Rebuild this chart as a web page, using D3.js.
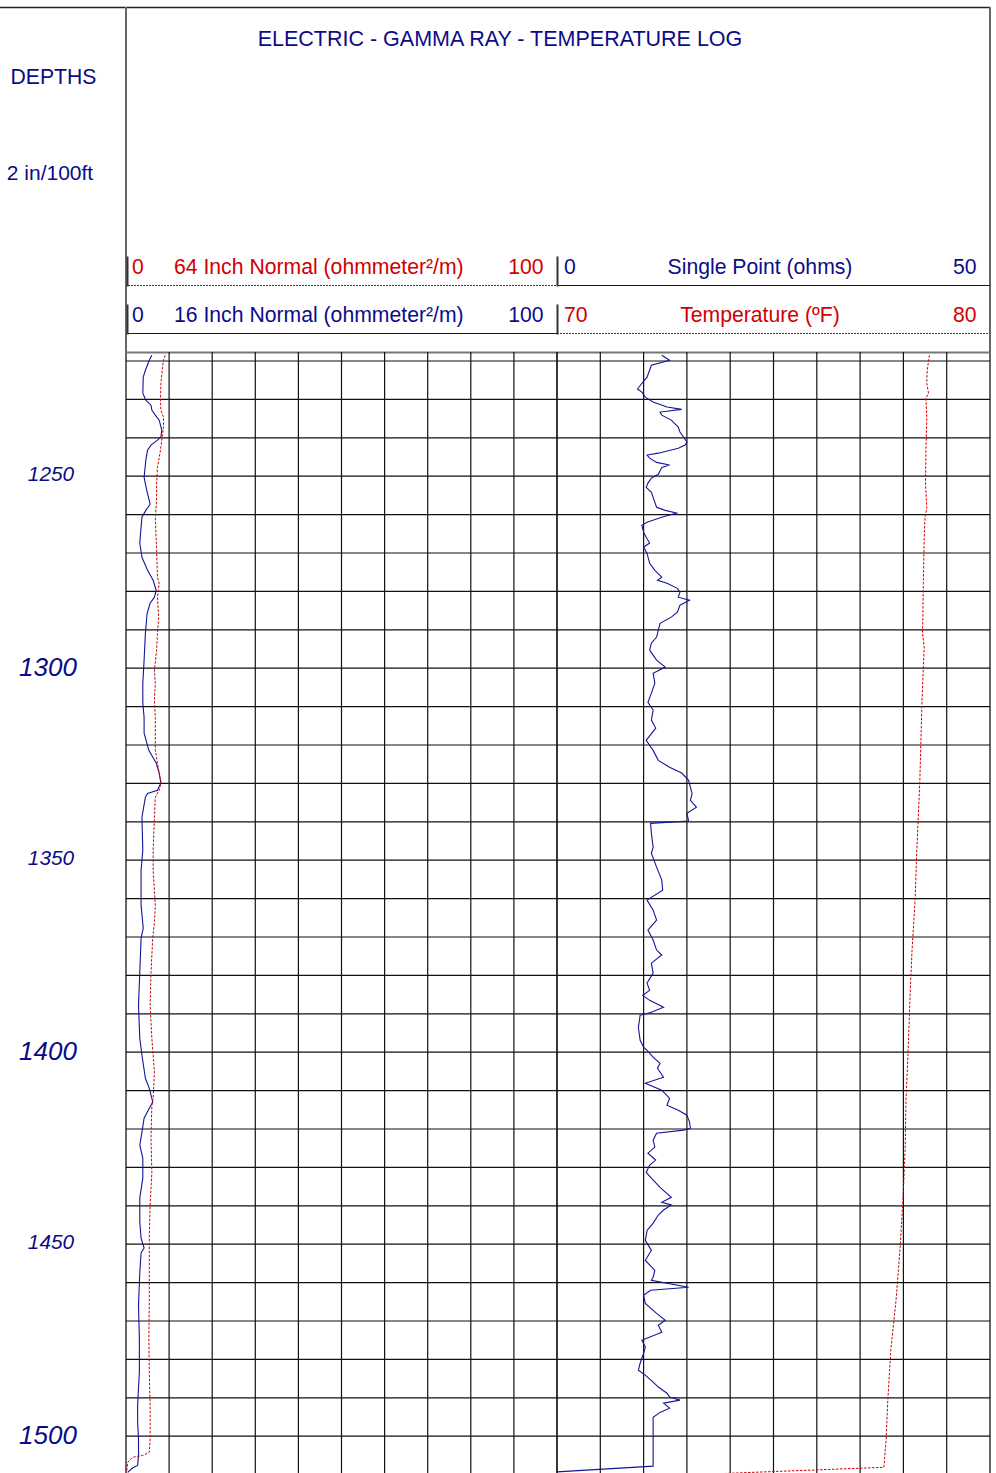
<!DOCTYPE html>
<html><head><meta charset="utf-8">
<script src="https://cdn.jsdelivr.net/npm/d3@7"></script>
<style>body{margin:0;background:#fff}svg{display:block;font-family:"Liberation Sans",Arial,sans-serif}</style>
</head><body>
<svg id="chart" width="996" height="1473"></svg>
<script>
// ---- data ----
const title = "ELECTRIC - GAMMA RAY - TEMPERATURE LOG";
const depthTicksMajor = [1300, 1400, 1500];
const depthTicksMinor = [1250, 1350, 1450];
const depthDomain = [1220, 1510];

// 16 Inch Normal (ohm-m), track 1, 0-100
const n16Depth = [1218.5,1219.8,1222.4,1224.2,1228.4,1230.2,1231.5,1232.8,1234.1,1235.4,1238.0,1239.8,1240.6,1241.9,1243.2,1245.8,1250.3,1253.6,1257.3,1258.9,1260.7,1263.3,1267.4,1271.1,1274.5,1277.1,1279.7,1281.5,1283.1,1285.7,1290.9,1297.9,1303.9,1309.1,1312.8,1316.9,1321.4,1324.7,1327.3,1329.9,1331.8,1332.6,1333.6,1338.8,1347.4,1352.6,1361.7,1367.7,1370.3,1379.2,1387.8,1396.4,1400.8,1406.8,1409.4,1412.0,1413.0,1414.6,1417.2,1420.8,1424.2,1427.6,1432.8,1438.0,1444.3,1448.4,1451.0,1452.3,1457.3,1465.9,1474.5,1483.3,1487.5,1491.9,1496.4,1500.5,1505.0,1507.6,1508.3,1509.4];
const n16Value = [6.0,5.4,4.5,4.0,3.9,4.6,5.8,6.0,6.8,7.7,8.3,8.1,7.3,5.8,5.0,4.6,4.2,4.8,5.6,4.6,3.7,3.5,3.2,3.7,5.0,6.3,7.0,6.6,5.6,4.9,4.5,4.2,3.9,3.9,4.2,4.2,5.3,7.0,7.7,8.1,7.3,5.0,4.5,3.7,3.9,3.5,3.5,4.0,3.5,3.2,2.9,3.2,3.7,4.5,5.4,6.0,6.2,5.4,4.2,3.7,3.2,3.9,3.9,3.2,3.2,3.5,4.2,3.5,3.2,2.9,3.1,3.1,2.9,2.7,2.7,2.9,2.9,2.7,1.5,0.4];

// 64 Inch Normal (ohm-m), track 1, 0-100
const n64Depth = [1218.5,1219.8,1222.4,1225.8,1230.2,1232.8,1234.6,1237.2,1239.8,1243.2,1247.7,1251.8,1256.3,1260.7,1269.3,1276.3,1277.9,1281.5,1286.7,1290.9,1295.3,1300.5,1303.9,1308.3,1312.8,1321.4,1326.6,1329.9,1331.8,1333.6,1338.8,1347.4,1352.6,1361.7,1366.1,1370.3,1379.2,1387.8,1396.4,1405.2,1412.0,1413.8,1422.4,1431.3,1439.8,1448.4,1457.3,1465.9,1474.5,1483.3,1491.9,1500.5,1504.2,1505.0,1505.5,1506.8,1509.4];
const n64Value = [9.1,8.7,8.4,8.1,8.0,8.1,8.7,8.7,8.4,8.0,7.3,7.1,7.1,6.8,7.1,7.3,7.7,7.3,7.6,7.3,7.1,6.6,6.8,6.6,6.8,6.8,7.6,8.1,7.7,6.8,6.6,6.3,6.3,6.8,6.6,6.2,5.8,5.6,6.0,6.6,6.3,6.0,5.8,6.0,5.6,5.4,5.4,5.4,5.3,5.4,5.6,5.6,5.4,3.9,1.5,0.4,0.15];

// Single Point (ohms), track 2, 0-50
const spDepth = [1218.5,1219.8,1221.1,1224.2,1225.8,1227.3,1228.1,1229.4,1230.7,1232.0,1232.6,1233.3,1234.1,1235.4,1237.2,1238.5,1239.8,1241.1,1241.9,1242.7,1244.0,1244.5,1245.3,1246.4,1247.1,1247.7,1249.5,1250.5,1251.8,1252.9,1254.2,1255.5,1258.1,1258.9,1259.6,1260.7,1262.0,1262.8,1264.6,1265.9,1267.4,1268.5,1270.1,1272.7,1274.5,1276.3,1277.1,1277.9,1279.2,1280.2,1281.5,1282.3,1283.6,1285.4,1286.7,1288.3,1290.1,1291.9,1293.5,1295.3,1297.9,1299.7,1301.3,1303.9,1306.5,1308.9,1310.9,1313.5,1315.6,1318.8,1321.4,1324.0,1325.8,1327.3,1329.2,1331.0,1332.6,1334.4,1336.2,1337.8,1339.8,1340.4,1343.0,1346.6,1348.2,1351.8,1355.2,1357.8,1360.4,1363.0,1365.6,1368.2,1370.8,1373.4,1374.7,1376.8,1379.4,1382.0,1383.9,1385.2,1386.5,1388.3,1389.6,1390.4,1393.5,1396.9,1398.7,1399.5,1401.3,1402.9,1404.2,1406.5,1408.1,1409.9,1412.0,1413.8,1415.1,1416.4,1418.2,1419.8,1420.3,1421.1,1422.9,1424.7,1426.3,1428.1,1429.4,1431.3,1432.8,1435.2,1437.8,1439.1,1439.8,1441.1,1442.4,1444.5,1446.4,1449.0,1451.6,1454.2,1456.8,1458.6,1459.4,1461.2,1462.0,1463.3,1465.4,1468.0,1469.8,1471.1,1472.9,1475.0,1476.8,1478.4,1481.0,1482.8,1484.1,1485.9,1487.2,1488.8,1489.8,1490.6,1491.4,1492.7,1493.8,1495.1,1497.7,1503.6,1507.8,1509.3];
const spValue = [12.1,13.0,10.9,10.4,9.8,9.3,9.8,10.2,11.1,12.7,14.4,11.9,12.1,13.2,14.0,14.2,14.6,15.0,14.8,14.0,11.7,10.4,10.7,11.5,13.0,12.1,11.7,10.9,10.5,10.3,10.9,11.1,11.5,12.5,13.8,12.1,10.4,9.8,10.0,10.3,10.7,10.0,10.4,10.7,11.3,12.1,11.6,12.7,13.9,14.2,14.0,15.3,14.2,13.9,13.2,11.9,11.7,11.5,10.9,10.7,11.5,12.5,11.1,11.3,10.9,10.5,11.1,10.9,11.4,10.3,11.1,11.7,13.0,14.4,15.2,15.4,15.6,15.4,16.1,15.0,15.2,10.8,10.9,11.1,10.9,11.5,12.1,12.2,10.4,11.1,11.5,10.5,11.1,11.5,12.1,10.9,11.1,10.4,10.7,9.9,10.7,12.3,10.9,9.6,9.4,9.6,10.0,10.4,11.1,11.9,11.6,12.3,10.2,12.1,13.0,12.7,14.0,15.0,15.3,15.4,14.6,11.5,11.1,11.3,10.5,11.4,10.7,10.3,10.9,11.9,13.2,12.1,13.2,12.3,11.7,11.1,10.4,10.2,10.9,10.2,11.3,11.1,10.9,15.2,10.8,10.0,10.2,11.5,12.5,11.7,12.1,9.8,10.2,10.0,9.6,9.4,10.2,11.1,11.7,12.7,13.0,14.2,12.3,13.0,11.9,11.1,11.1,11.1,11.1,0.0];

// Temperature (ºF), track 2, 70-80
const tDepth = [1218.5,1222.4,1225.8,1228.4,1229.7,1234.6,1243.2,1251.8,1258.1,1260.7,1265.9,1277.9,1286.7,1290.9,1294.5,1308.3,1329.2,1347.4,1360.4,1373.4,1386.5,1399.5,1412.5,1425.5,1438.5,1451.6,1464.6,1477.6,1490.6,1501.0,1508.1,1509.4,1511.5];
const tValue = [78.60,78.55,78.54,78.58,78.52,78.54,78.52,78.51,78.54,78.50,78.48,78.46,78.45,78.44,78.48,78.43,78.38,78.31,78.27,78.20,78.15,78.11,78.06,78.04,77.99,77.92,77.83,77.71,77.64,77.60,77.55,74.55,70.0];

// ---- layout ----
const BLUE = "#0c0c88", RED = "#d00000", CURVE_BLUE = "#15159a";
const svg = d3.select("#chart");
const L = 126, M = 557, R = 990, GT = 352, BOT = 1473;
const y = d3.scaleLinear().domain(depthDomain).range([361, 361 + 290 * 3.84]);
const x1 = d3.scaleLinear().domain([0, 100]).range([L, M]);
const xsp = d3.scaleLinear().domain([0, 50]).range([M, R]);
const xt = d3.scaleLinear().domain([70, 80]).range([M, R]);

// frame
svg.append("line").attr("x1", 0).attr("x2", R).attr("y1", 7.5).attr("y2", 7.5).attr("stroke", "#222").attr("stroke-width", 1.3);
svg.append("line").attr("x1", L).attr("x2", L).attr("y1", 7).attr("y2", BOT).attr("stroke", "#666").attr("stroke-width", 2);
svg.append("line").attr("x1", R).attr("x2", R).attr("y1", 7).attr("y2", BOT).attr("stroke", "#666").attr("stroke-width", 2);

// titles
svg.append("text").attr("x", 500).attr("y", 45.5).attr("text-anchor", "middle").attr("fill", BLUE).attr("font-size", 21.5).text(title);
svg.append("text").attr("x", 53.5).attr("y", 84).attr("text-anchor", "middle").attr("fill", BLUE).attr("font-size", 21.2).text("DEPTHS");
svg.append("text").attr("x", 50).attr("y", 180).attr("text-anchor", "middle").attr("fill", BLUE).attr("font-size", 21).text("2 in/100ft");

// header rows
const headers = [
  {row: 0, track: 1, color: RED, dotted: true, left: "0", name: "64 Inch Normal (ohmmeter²/m)", right: "100"},
  {row: 0, track: 2, color: BLUE, dotted: false, left: "0", name: "Single Point (ohms)", right: "50"},
  {row: 1, track: 1, color: BLUE, dotted: false, left: "0", name: "16 Inch Normal (ohmmeter²/m)", right: "100"},
  {row: 1, track: 2, color: RED, dotted: true, left: "70", name: "Temperature (ºF)", right: "80"}
];
headers.forEach(h => {
  const base = 273.8 + h.row * 48, lineY = 285.5 + h.row * 48;
  const x0 = h.track === 1 ? 128 : M, xe = h.track === 1 ? M : R;
  svg.append("line").attr("x1", x0).attr("x2", xe).attr("y1", lineY).attr("y2", lineY)
    .attr("stroke", h.color).attr("stroke-width", h.dotted ? 1 : 1.2)
    .attr("stroke-dasharray", h.dotted ? "2,1" : null);
  svg.append("line").attr("x1", h.track === 1 ? 127.5 : 557.5).attr("x2", h.track === 1 ? 127.5 : 557.5)
    .attr("y1", lineY - 29).attr("y2", lineY + 1).attr("stroke", "#333").attr("stroke-width", 2);
  const t = svg.append("g").attr("fill", h.color).attr("font-size", 21.2);
  t.append("text").attr("x", x0 + (h.track === 1 ? 4 : 7)).attr("y", base).text(h.left);
  if (h.track === 1) t.append("text").attr("x", 174).attr("y", base).text(h.name);
  else t.append("text").attr("x", 760).attr("y", base).attr("text-anchor", "middle").text(h.name);
  t.append("text").attr("x", h.track === 1 ? 543.5 : 976.5).attr("y", base).attr("text-anchor", "end").text(h.right);
});

// grid
const grid = svg.append("g");
grid.append("line").attr("x1", L).attr("x2", R).attr("y1", 352.5).attr("y2", 352.5).attr("stroke", "#777").attr("stroke-width", 2);
d3.range(1220, 1511, 10).forEach(d => {
  grid.append("line").attr("x1", L).attr("x2", R).attr("y1", y(d)).attr("y2", y(d)).attr("stroke", "#111").attr("stroke-width", 1.2);
});
x1.ticks(10).concat(xsp.ticks(10)).forEach((v, i) => {
  const xx = i < 11 ? x1(v) : xsp(v);
  if (xx <= L + 0.5 || xx >= R - 0.5) return;
  grid.append("line").attr("x1", xx).attr("x2", xx).attr("y1", GT).attr("y2", BOT).attr("stroke", "#111").attr("stroke-width", 1.2);
});

// depth labels
depthTicksMinor.forEach(d => svg.append("text").attr("x", 51).attr("y", y(d) - 2.5).attr("dy", "0.36em")
  .attr("text-anchor", "middle").attr("font-style", "italic").attr("font-size", 20.8).attr("fill", BLUE).text(d));
depthTicksMajor.forEach(d => svg.append("text").attr("x", 48).attr("y", y(d) - 1.5).attr("dy", "0.36em")
  .attr("text-anchor", "middle").attr("font-style", "italic").attr("font-size", 26).attr("fill", BLUE).text(d));

// curves
svg.append("clipPath").attr("id", "plot").append("rect").attr("x", L).attr("y", GT).attr("width", R - L).attr("height", BOT - GT);
const cg = svg.append("g").attr("clip-path", "url(#plot)");
function curve(depths, values, xs, color, dotted, w) {
  const pts = depths.map((d, i) => [xs(values[i]), y(d)]);
  cg.append("path").attr("d", d3.line()(pts)).attr("fill", "none").attr("stroke", color)
    .attr("stroke-width", w).attr("stroke-dasharray", dotted ? "2.5,1.5" : null);
}
curve(n16Depth, n16Value, x1, CURVE_BLUE, false, 1.1);
curve(n64Depth, n64Value, x1, RED, true, 1);
curve(spDepth, spValue, xsp, CURVE_BLUE, false, 1.1);
curve(tDepth, tValue, xt, RED, true, 1);
</script>
</body></html>
